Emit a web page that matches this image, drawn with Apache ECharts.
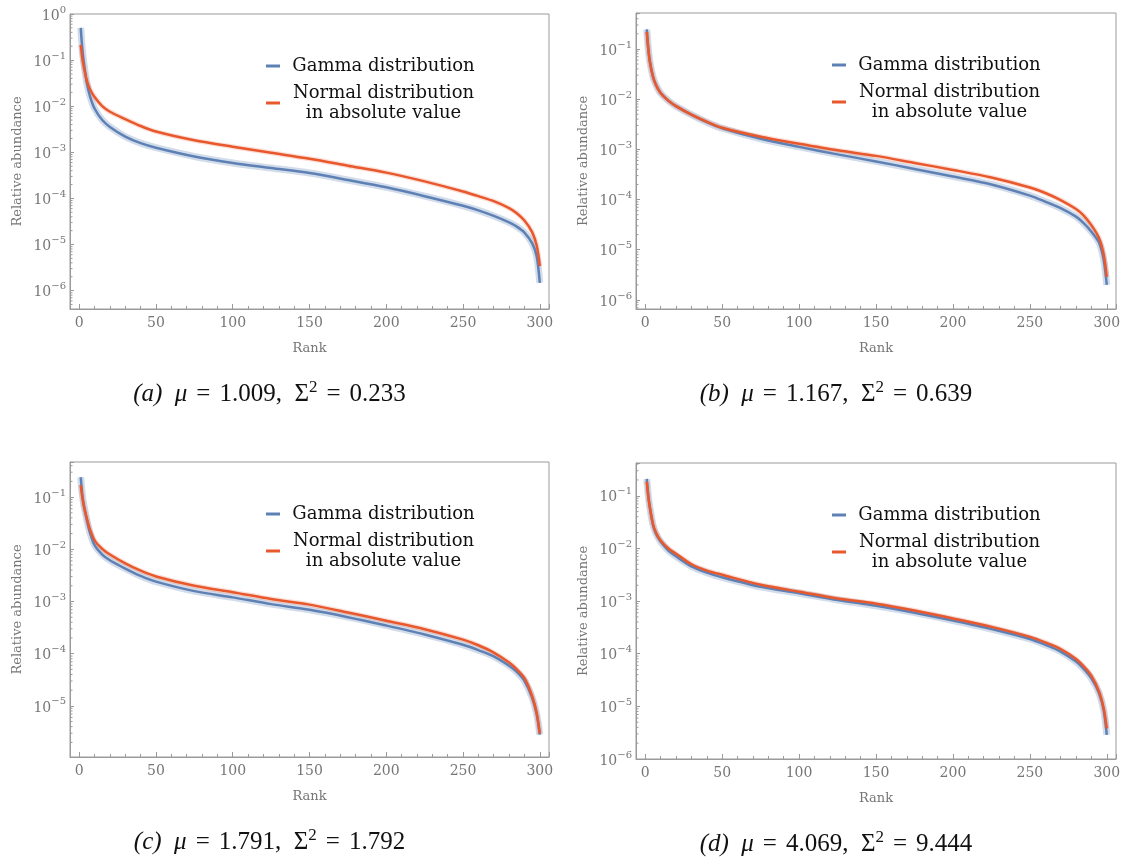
<!DOCTYPE html>
<html>
<head>
<meta charset="utf-8">
<script src="https://cdn.jsdelivr.net/npm/echarts@6/dist/echarts.min.js"></script>
<style>
  html, body { margin: 0; padding: 0; background: #fff; }
  #main { width: 1128px; height: 861px; }
</style>
</head>
<body>
<div id="main"></div>
<script>
// ranks
const ranks = [1, 2, 3, 5, 7, 10, 15, 20, 30, 40, 50, 75, 100, 125, 150, 175, 200, 225, 250, 260, 270, 280, 285, 290, 295, 298, 300];

// (a)
const gammaA = [5.01e-1, 1.78e-1, 8.91e-2, 3.16e-2, 1.66e-2, 8.91e-3, 5.01e-3, 3.55e-3, 2.19e-3, 1.58e-3, 1.26e-3, 8.13e-4, 5.89e-4, 4.57e-4, 3.55e-4, 2.51e-4, 1.74e-4, 1.12e-4, 6.92e-5, 5.50e-5, 4.17e-5, 3.02e-5, 2.45e-5, 1.82e-5, 1.07e-5, 5.50e-6, 1.48e-6];
const normalA = [2.14e-1, 1.12e-1, 7.08e-2, 3.55e-2, 2.34e-2, 1.58e-2, 1.00e-2, 7.59e-3, 5.25e-3, 3.72e-3, 2.82e-3, 1.82e-3, 1.32e-3, 9.77e-4, 7.24e-4, 5.13e-4, 3.63e-4, 2.34e-4, 1.41e-4, 1.12e-4, 8.71e-5, 6.17e-5, 4.79e-5, 3.31e-5, 1.86e-5, 9.55e-6, 3.39e-6];
// (b)
const gammaB = [2.45e-1, 1.00e-1, 5.62e-2, 2.82e-2, 1.91e-2, 1.32e-2, 9.33e-3, 7.24e-3, 4.90e-3, 3.47e-3, 2.63e-3, 1.62e-3, 1.12e-3, 7.94e-4, 5.75e-4, 4.07e-4, 2.88e-4, 2.00e-4, 1.20e-4, 9.12e-5, 6.76e-5, 4.57e-5, 3.39e-5, 2.29e-5, 1.38e-5, 6.31e-6, 2.00e-6];
const normalB = [2.19e-1, 1.00e-1, 5.62e-2, 2.82e-2, 1.91e-2, 1.32e-2, 9.33e-3, 7.24e-3, 4.90e-3, 3.55e-3, 2.69e-3, 1.78e-3, 1.29e-3, 9.55e-4, 7.41e-4, 5.37e-4, 3.89e-4, 2.75e-4, 1.74e-4, 1.35e-4, 9.77e-5, 6.46e-5, 4.79e-5, 3.09e-5, 1.70e-5, 7.94e-6, 2.88e-6];
// (c)
const gammaC = [2.40e-1, 1.12e-1, 7.08e-2, 3.63e-2, 2.09e-2, 1.20e-2, 7.94e-3, 6.17e-3, 4.27e-3, 3.09e-3, 2.40e-3, 1.58e-3, 1.20e-3, 8.91e-4, 6.92e-4, 5.01e-4, 3.47e-4, 2.34e-4, 1.48e-4, 1.17e-4, 8.91e-5, 5.89e-5, 4.47e-5, 3.02e-5, 1.45e-5, 6.92e-6, 2.82e-6];
const normalC = [1.70e-1, 1.00e-1, 6.76e-2, 3.89e-2, 2.40e-2, 1.48e-2, 1.02e-2, 7.94e-3, 5.37e-3, 3.89e-3, 3.02e-3, 2.00e-3, 1.51e-3, 1.12e-3, 8.71e-4, 6.17e-4, 4.27e-4, 2.95e-4, 1.86e-4, 1.45e-4, 1.05e-4, 6.76e-5, 5.01e-5, 3.39e-5, 1.55e-5, 7.24e-6, 2.95e-6];
// (d)
const gammaD = [2.09e-1, 1.00e-1, 6.03e-2, 2.82e-2, 1.91e-2, 1.35e-2, 9.12e-3, 7.08e-3, 4.57e-3, 3.47e-3, 2.82e-3, 1.86e-3, 1.41e-3, 1.05e-3, 8.13e-4, 6.03e-4, 4.27e-4, 2.95e-4, 1.91e-4, 1.48e-4, 1.10e-4, 7.08e-5, 5.13e-5, 3.39e-5, 1.78e-5, 8.51e-6, 2.88e-6];
const normalD = [1.86e-1, 9.55e-2, 6.03e-2, 2.95e-2, 2.00e-2, 1.41e-2, 1.00e-2, 7.94e-3, 5.01e-3, 3.80e-3, 3.16e-3, 2.04e-3, 1.51e-3, 1.12e-3, 8.91e-4, 6.61e-4, 4.68e-4, 3.24e-4, 2.09e-4, 1.64e-4, 1.23e-4, 7.94e-5, 5.75e-5, 3.80e-5, 1.91e-5, 9.12e-6, 3.80e-6];

// captions: [letter, mu, sigma^2]
const captionA = ['a', '1.009', '0.233'];
const captionB = ['b', '1.167', '0.639'];
const captionC = ['c', '1.791', '1.792'];
const captionD = ['d', '4.069', '9.444'];

const xTicks = [0, 50, 100, 150, 200, 250, 300];

const G_NAME = 'Gamma distribution';
const N_NAME = 'Normal distribution in absolute value';

const BLUE = '#5E81B5';
const ORANGE = '#E9582D';
const FRAME = '#9a9a9a';
const LABEL = '#767676';
const SERIF = 'DejaVu Serif';

const panels = [
  { g: gammaA, n: normalA, cap: captionA, left: 70, top: 14, width: 479, height: 295, yMin: 4e-7, yMax: 1 },
  { g: gammaB, n: normalB, cap: captionB, left: 636, top: 13, width: 480, height: 296, yMin: 6.6e-7, yMax: 0.52 },
  { g: gammaC, n: normalC, cap: captionC, left: 70, top: 462, width: 479, height: 295, yMin: 1.05e-6, yMax: 0.47 },
  { g: gammaD, n: normalD, cap: captionD, left: 636, top: 463, width: 480, height: 296, yMin: 1e-6, yMax: 0.42 },
];
const X_MIN = -6, X_MAX = 306;

function pairs(arr) {
  return ranks.map((r, i) => [r, arr[i]]);
}

function powLabel(v) {
  const e = Math.log10(v);
  const r = Math.round(e);
  if (Math.abs(e - r) > 1e-6) return '';
  return '{b|10}{s|' + (r < 0 ? '\u2212' + (-r) : String(r)) + '}';
}

function minorValues(lo, hi) {
  const out = [];
  for (let k = -8; k <= 0; k++) {
    for (let m = 2; m <= 9; m++) {
      const v = m * Math.pow(10, k);
      if (v > lo && v < hi) out.push([X_MIN, v]);
    }
  }
  return out;
}

const grid = [], xAxis = [], yAxis = [], series = [], legend = [], graphic = [];

panels.forEach((p, i) => {
  grid.push({
    left: p.left, top: p.top, width: p.width, height: p.height,
    show: true, borderColor: FRAME, borderWidth: 1, backgroundColor: 'transparent'
  });
  xAxis.push({
    type: 'value', gridIndex: i, min: X_MIN, max: X_MAX,
    name: 'Rank', nameLocation: 'middle', nameGap: 33,
    nameTextStyle: { color: LABEL, fontSize: 13, fontFamily: SERIF },
    axisLine: { show: true, onZero: false, lineStyle: { color: FRAME, width: 1 } },
    axisTick: { show: true, inside: true, length: 5, lineStyle: { color: FRAME } },
    minorTick: { show: true, splitNumber: 5, length: 3, lineStyle: { color: FRAME } },
    splitLine: { show: false },
    axisLabel: {
      color: LABEL, fontSize: 14, fontFamily: SERIF, margin: 7,
      formatter: v => (xTicks.indexOf(v) >= 0 ? String(v) : '')
    }
  });
  yAxis.push({
    type: 'log', logBase: 10, gridIndex: i, min: p.yMin, max: p.yMax,
    name: 'Relative abundance', nameLocation: 'middle', nameGap: 46, nameRotate: 90,
    nameTextStyle: { color: LABEL, fontSize: 13, fontFamily: SERIF },
    axisLine: { show: true, onZero: false, lineStyle: { color: FRAME, width: 1 } },
    axisTick: { show: true, inside: true, length: 4, lineStyle: { color: FRAME } },
    splitLine: { show: false },
    axisLabel: {
      margin: 4, formatter: powLabel,
      rich: {
        b: { fontSize: 14, fontFamily: SERIF, color: LABEL, lineHeight: 18, verticalAlign: 'bottom' },
        s: { fontSize: 10, fontFamily: SERIF, color: LABEL, lineHeight: 18, verticalAlign: 'top' }
      }
    }
  });

  const common = {
    type: 'line', xAxisIndex: i, yAxisIndex: i, showSymbol: false,
    smooth: 0.3, animation: false
  };
  series.push(Object.assign({}, common, {
    name: 'band-g', data: pairs(p.g), color: BLUE, silent: true, z: 1,
    lineStyle: { width: 7, opacity: 0.28, color: BLUE, join: 'round' }
  }));
  series.push(Object.assign({}, common, {
    name: 'band-n', data: pairs(p.n), color: ORANGE, silent: true, z: 1,
    lineStyle: { width: 5, opacity: 0.2, color: ORANGE, join: 'round' }
  }));
  series.push(Object.assign({}, common, {
    name: G_NAME, data: pairs(p.g), color: BLUE, z: 3,
    lineStyle: { width: 2.5, color: BLUE, join: 'round' }
  }));
  series.push(Object.assign({}, common, {
    name: N_NAME, data: pairs(p.n), color: ORANGE, z: 4,
    lineStyle: { width: 2.5, color: ORANGE, join: 'round' }
  }));
  // minor ticks on the log axis (2..9 within each decade)
  series.push({
    type: 'custom', xAxisIndex: i, yAxisIndex: i, silent: true, clip: false,
    encode: { x: 0, y: 1 }, data: minorValues(p.yMin, p.yMax),
    renderItem: (params, api) => {
      const pt = api.coord([api.value(0), api.value(1)]);
      return {
        type: 'line',
        shape: { x1: pt[0], y1: pt[1], x2: pt[0] + 2.5, y2: pt[1] },
        style: { stroke: FRAME, lineWidth: 1 }
      };
    }
  });

  legend.push({
    left: p.left + 196, top: p.top + 43, orient: 'vertical', padding: 0, itemGap: 9,
    icon: 'rect', itemWidth: 14, itemHeight: 3, selectedMode: false,
    data: [G_NAME, N_NAME],
    formatter: name => name === G_NAME ? '{t|Gamma distribution}' : '{t|Normal distribution}\n{t|in absolute value}',
    textStyle: {
      rich: { t: { width: 197, align: 'center', fontSize: 18, lineHeight: 20, fontFamily: SERIF, color: '#111' } }
    }
  });

  const c = p.cap;
  const base = { fontSize: 25, fontFamily: 'Liberation Serif', fill: '#111', lineHeight: 28, verticalAlign: 'bottom' };
  graphic.push({
    type: 'text',
    x: p.left + p.width / 2 - 40,
    y: p.top + p.height + 84,
    style: {
      text: '{i|(' + c[0] + ')}{n|  }{i|\u03bc}{e|=}{n|' + c[1] + ',  \u03a3}{s|2}{e|=}{n|' + c[2] + '}',
      align: 'center', verticalAlign: 'middle',
      rich: {
        i: Object.assign({}, base, { fontStyle: 'italic' }),
        n: base,
        e: Object.assign({}, base, { padding: [0, 9, 0, 9] }),
        s: { fontSize: 17, fontFamily: 'Liberation Serif', fill: '#111', lineHeight: 28, verticalAlign: 'top' }
      }
    }
  });
});

const chart = echarts.init(document.getElementById('main'));
chart.setOption({
  animation: false,
  backgroundColor: '#fff',
  grid, xAxis, yAxis, series, legend, graphic
});
</script>
</body>
</html>
